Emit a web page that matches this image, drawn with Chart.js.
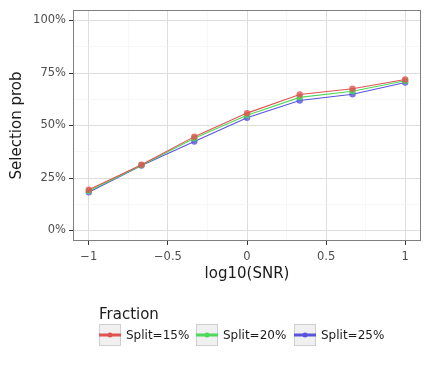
<!DOCTYPE html>
<html lang="en">
<head>
    <meta charset="UTF-8">
    <title>Selection prob vs log10(SNR)</title>
    <script src="https://cdn.jsdelivr.net/npm/chart.js@4.4.1/dist/chart.umd.min.js"></script>
    <style>
        html, body { margin: 0; padding: 0; background: #fff; }
        #wrap { width: 431px; height: 373px; }
    </style>
</head>
<body>
    <div id="wrap"><canvas id="snrChart" width="431" height="373"></canvas></div>

    <script>
        // data
        const snrLog = [-1, -0.667, -0.333, 0, 0.333, 0.667, 1];
        const split15 = [0.194, 0.313, 0.447, 0.559, 0.648, 0.675, 0.719];
        const split20 = [0.188, 0.311, 0.439, 0.549, 0.634, 0.663, 0.713];
        const split25 = [0.182, 0.309, 0.424, 0.537, 0.619, 0.649, 0.705];
        const seriesNames = ['Split=15%', 'Split=20%', 'Split=25%'];
        const seriesColors = ['#df5450', '#4fd95a', '#5a53de'];

        const xTicks = [-1, -0.75, -0.5, -0.25, 0, 0.25, 0.5, 0.75, 1];
        const xLabels = ['\u22121', '', '\u22120.5', '', '0', '', '0.5', '', '1'];
        const yTicks = [0, 0.125, 0.25, 0.375, 0.5, 0.625, 0.75, 0.875, 1];
        const yLabels = ['0%', '', '25%', '', '50%', '', '75%', '', '100%'];

        const makeSet = (label, values, color) => ({
            label: label,
            data: snrLog.map((x, i) => ({ x: x, y: values[i] })),
            borderColor: color,
            backgroundColor: color + 'cc',
            borderWidth: 1.1,
            pointRadius: 3.2,
            pointBorderWidth: 0,
            tension: 0
        });

        // panel border around the plot area
        const panelBorder = {
            id: 'panelBorder',
            afterDraw(chart) {
                const { ctx, chartArea: a } = chart;
                ctx.save();
                ctx.strokeStyle = '#7f7f7f';
                ctx.lineWidth = 1;
                ctx.strokeRect(a.left + 0.5, a.top + 0.5, a.right - a.left - 1, a.bottom - a.top - 1);
                ctx.restore();
            }
        };

        // ggplot style legend below the plot
        const ggLegend = {
            id: 'ggLegend',
            afterDraw(chart) {
                const ctx = chart.ctx;
                ctx.save();
                ctx.fillStyle = '#1a1a1a';
                ctx.font = '15px "DejaVu Sans"';
                ctx.textBaseline = 'middle';
                ctx.textAlign = 'left';
                ctx.fillText('Fraction', 99, 315);
                const boxX = [99, 196, 294];
                chart.data.datasets.forEach((ds, i) => {
                    const x = boxX[i], y = 324, s = 22;
                    ctx.fillStyle = '#f0f0f0';
                    ctx.fillRect(x, y, s, s);
                    ctx.strokeStyle = '#cfcfcf';
                    ctx.lineWidth = 1;
                    ctx.strokeRect(x + 0.5, y + 0.5, s - 1, s - 1);
                    ctx.strokeStyle = ds.borderColor;
                    ctx.lineWidth = 3;
                    ctx.beginPath();
                    ctx.moveTo(x, y + s / 2);
                    ctx.lineTo(x + s, y + s / 2);
                    ctx.stroke();
                    ctx.fillStyle = ds.borderColor;
                    ctx.beginPath();
                    ctx.arc(x + s / 2, y + s / 2, 2.5, 0, Math.PI * 2);
                    ctx.fill();
                    ctx.fillStyle = '#1a1a1a';
                    ctx.font = '12px "DejaVu Sans"';
                    ctx.fillText(ds.label, x + 27, y + s / 2 + 1);
                });
                ctx.restore();
            }
        };

        const major = (labels, ticks, c) => !!labels[ticks.indexOf(c.tick ? c.tick.value : NaN)];

        new Chart(document.getElementById('snrChart').getContext('2d'), {
            type: 'line',
            data: {
                datasets: [
                    makeSet(seriesNames[0], split15, seriesColors[0]),
                    makeSet(seriesNames[1], split20, seriesColors[1]),
                    makeSet(seriesNames[2], split25, seriesColors[2])
                ]
            },
            options: {
                responsive: false,
                animation: false,
                layout: { padding: { top: 10, right: 10, bottom: 90, left: 0 } },
                plugins: {
                    legend: { display: false },
                    tooltip: { enabled: false }
                },
                scales: {
                    x: {
                        type: 'linear',
                        min: -1.1,
                        max: 1.1,
                        afterBuildTicks: s => { s.ticks = xTicks.map(v => ({ value: v })); },
                        afterFit: s => { s.height = 42; },
                        border: { display: false },
                        grid: {
                            color: c => major(xLabels, xTicks, c) ? '#dedede' : '#f2f2f2',
                            lineWidth: c => major(xLabels, xTicks, c) ? 1 : 0.6,
                            tickLength: 4,
                            tickColor: c => major(xLabels, xTicks, c) ? '#333' : 'rgba(0,0,0,0)',
                            tickWidth: 1
                        },
                        ticks: {
                            autoSkip: false,
                            maxRotation: 0,
                            padding: 5,
                            color: '#4d4d4d',
                            font: { family: 'DejaVu Sans', size: 11.5 },
                            callback: (v) => xLabels[xTicks.indexOf(v)]
                        },
                        title: {
                            display: true,
                            text: 'log10(SNR)',
                            color: '#1a1a1a',
                            font: { family: 'DejaVu Sans', size: 15 },
                            padding: { top: 0, bottom: 0 }
                        }
                    },
                    y: {
                        min: -0.05,
                        max: 1.05,
                        afterBuildTicks: s => { s.ticks = yTicks.map(v => ({ value: v })); },
                        afterFit: s => { s.width = 73; },
                        border: { display: false },
                        grid: {
                            color: c => major(yLabels, yTicks, c) ? '#dedede' : '#f2f2f2',
                            lineWidth: c => major(yLabels, yTicks, c) ? 1 : 0.6,
                            tickLength: 4,
                            tickColor: c => major(yLabels, yTicks, c) ? '#333' : 'rgba(0,0,0,0)',
                            tickWidth: 1
                        },
                        ticks: {
                            autoSkip: false,
                            padding: 3,
                            color: '#4d4d4d',
                            font: { family: 'DejaVu Sans', size: 11.5 },
                            callback: (v) => yLabels[yTicks.indexOf(v)]
                        },
                        title: {
                            display: true,
                            text: 'Selection prob',
                            color: '#1a1a1a',
                            font: { family: 'DejaVu Sans', size: 15 },
                            padding: { top: 8, bottom: 0 }
                        }
                    }
                }
            },
            plugins: [panelBorder, ggLegend]
        });
    </script>
</body>
</html>
